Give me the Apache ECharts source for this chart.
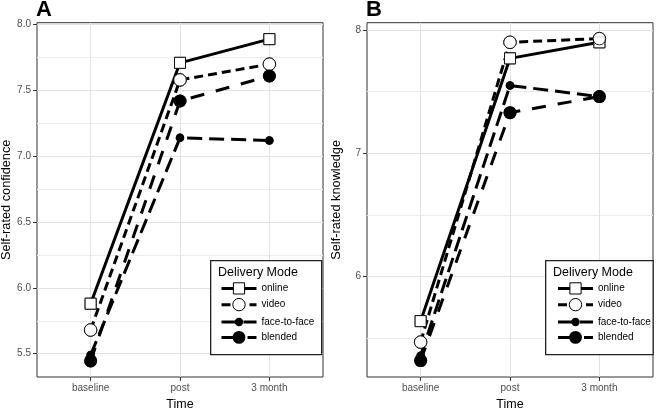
<!DOCTYPE html>
<html><head><meta charset="utf-8">
<script src="https://cdn.jsdelivr.net/npm/echarts@6/dist/echarts.min.js"></script>
<style>html,body{margin:0;padding:0;background:#fff}#c{width:661px;height:408px}</style>
</head><body><div id="c"></div>
<script>
// ---- data ----
const categories = ['baseline', 'post', '3 month'];
const modes = ['online', 'video', 'face-to-face', 'blended'];
const confOnline  = [5.88, 7.71, 7.89];
const confVideo   = [5.68, 7.58, 7.70];
const confF2F     = [5.49, 7.14, 7.12];
const confBlended = [5.445, 7.42, 7.61];
const knowOnline  = [5.64, 7.77, 7.90];
const knowVideo   = [5.47, 7.90, 7.93];
const knowF2F     = [5.36, 7.55, 7.46];
const knowBlended = [5.32, 7.33, 7.46];
const confTicks = [5.5, 6.0, 6.5, 7.0, 7.5, 8.0];
const confMinor = [5.75, 6.25, 6.75, 7.25, 7.75];
const knowTicks = [6, 7, 8];
const knowMinor = [5.5, 6.5, 7.5];

const FONT = '"Liberation Sans", Arial, Helvetica, sans-serif';
const catPos = categories.map((c, i) => i + 1);

const styles = {
  'online':       {symbol: 'rect',   size: 11,   fill: '#fff', dash: 'solid', legendH: 14},
  'video':        {symbol: 'circle', size: 12.5, fill: '#fff', dash: [9, 5],  legendH: 15.5},
  'face-to-face': {symbol: 'circle', size: 8.5,  fill: '#000', dash: [15, 7], legendH: 10.5},
  'blended':      {symbol: 'circle', size: 13,   fill: '#000', dash: [14, 12], legendH: 16}
};

function seriesFor(name, vals, gi) {
  const s = styles[name];
  const data = vals.map((v, i) => [catPos[i], v]);
  const item = {color: s.fill, borderColor: '#000', borderWidth: s.fill === '#fff' ? 1 : 0};
  return [
    {type: 'line', name, xAxisIndex: gi, yAxisIndex: gi * 2, data, symbol: s.symbol, symbolSize: s.size,
     showSymbol: true, itemStyle: item, lineStyle: {color: '#000', width: 3, type: s.dash, cap: 'butt'}, z: 2},
    {type: 'scatter', name, xAxisIndex: gi, yAxisIndex: gi * 2, data, symbol: s.symbol, symbolSize: s.size,
     itemStyle: item, z: 3}
  ];
}

const panels = [
  {vals: [confOnline, confVideo, confF2F, confBlended], min: 5.323, max: 8.015, ticks: confTicks, minor: confMinor,
   fmt: v => v.toFixed(1), yname: 'Self-rated confidence', left: 37, label: 'A', lx: 210, lw: 111, keyX: 220},
  {vals: [knowOnline, knowVideo, knowF2F, knowBlended], min: 5.187, max: 8.059, ticks: knowTicks, minor: knowMinor,
   fmt: v => String(v), yname: 'Self-rated knowledge', left: 367, label: 'B', lx: 545, lw: 107.5, keyX: 556.5}
];
const plotW = 286, plotTop = 22.7, plotBottom = 31;
const rowCenters = [289.3, 305.7, 322.3, 339];

const grids = [], xAxes = [], yAxes = [], series = [], legends = [], titles = [], graphics = [];
panels.forEach((p, gi) => {
  grids.push({left: p.left, top: plotTop, width: plotW, bottom: plotBottom, show: true,
    containLabel: false, outerBoundsMode: 'none',
    borderColor: '#333', borderWidth: 1, backgroundColor: 'transparent'});
  xAxes.push({gridIndex: gi, type: 'value', min: 0.4, max: 3.6,
    axisLine: {show: false},
    axisTick: {show: true, length: 4, customValues: catPos, lineStyle: {color: '#333'}},
    axisLabel: {customValues: catPos, formatter: v => categories[Math.round(v) - 1], fontSize: 10,
      color: '#4d4d4d', margin: 6, fontFamily: FONT},
    splitLine: {show: true, lineStyle: {color: ['#e2e2e2'], width: 1}},
    name: 'Time', nameLocation: 'middle', nameGap: 19,
    nameTextStyle: {fontSize: 12.5, color: '#000', fontFamily: FONT}});
  yAxes.push({gridIndex: gi, type: 'value', min: p.min, max: p.max,
    axisLine: {show: false},
    axisTick: {show: true, length: 4, customValues: p.ticks, lineStyle: {color: '#333'}},
    axisLabel: {customValues: p.ticks, formatter: p.fmt, fontSize: 10, color: '#4d4d4d', margin: 6, fontFamily: FONT},
    splitLine: {show: true, lineStyle: {color: ['#e2e2e2'], width: 1}},
    name: p.yname, nameLocation: 'middle', nameGap: 24,
    nameTextStyle: {fontSize: 12.75, color: '#000', fontFamily: FONT}});
  yAxes.push({gridIndex: gi, type: 'value', min: p.min, max: p.max, position: 'left',
    axisLine: {show: false}, axisTick: {show: false, customValues: p.minor, lineStyle: {color: '#ececec'}},
    axisLabel: {show: false, customValues: p.minor},
    splitLine: {show: true, lineStyle: {color: ['#ececec'], width: 1}}});
  modes.forEach((m, k) => series.push(...seriesFor(m, p.vals[k], gi)));
  titles.push({text: p.label, left: p.left - 1, top: -1.5, padding: 0,
    textStyle: {fontSize: 22, fontWeight: 'bold', color: '#000', fontFamily: FONT}});
  titles.push({text: 'Delivery Mode', left: p.lx + 8, top: 266.5, padding: 0,
    textStyle: {fontSize: 12.5, fontWeight: 'normal', color: '#000', fontFamily: FONT}});
  graphics.push({type: 'rect', left: p.lx, top: 260, z: 5,
    shape: {width: p.lw, height: 94}, style: {fill: '#fff', stroke: '#222', lineWidth: 1.3}});
  modes.forEach((m, k) => {
    const h = styles[m].legendH;
    legends.push({data: [m], left: p.keyX, top: rowCenters[k] - h / 2, padding: 0, orient: 'horizontal',
      itemWidth: 35, itemHeight: h, selectedMode: false, z: 10,
      lineStyle: {width: 3}, itemStyle: {borderWidth: styles[m].fill === '#fff' ? 1 : 0, borderColor: '#000'},
      textStyle: {fontSize: 10, color: '#000', fontFamily: FONT}});
  });
});

const chart = echarts.init(document.getElementById('c'), null, {renderer: 'canvas'});
chart.setOption({
  animation: false,
  backgroundColor: '#fff',
  textStyle: {fontFamily: FONT},
  title: titles,
  grid: grids, xAxis: xAxes, yAxis: yAxes, series,
  legend: legends,
  graphic: graphics
});
</script></body></html>
